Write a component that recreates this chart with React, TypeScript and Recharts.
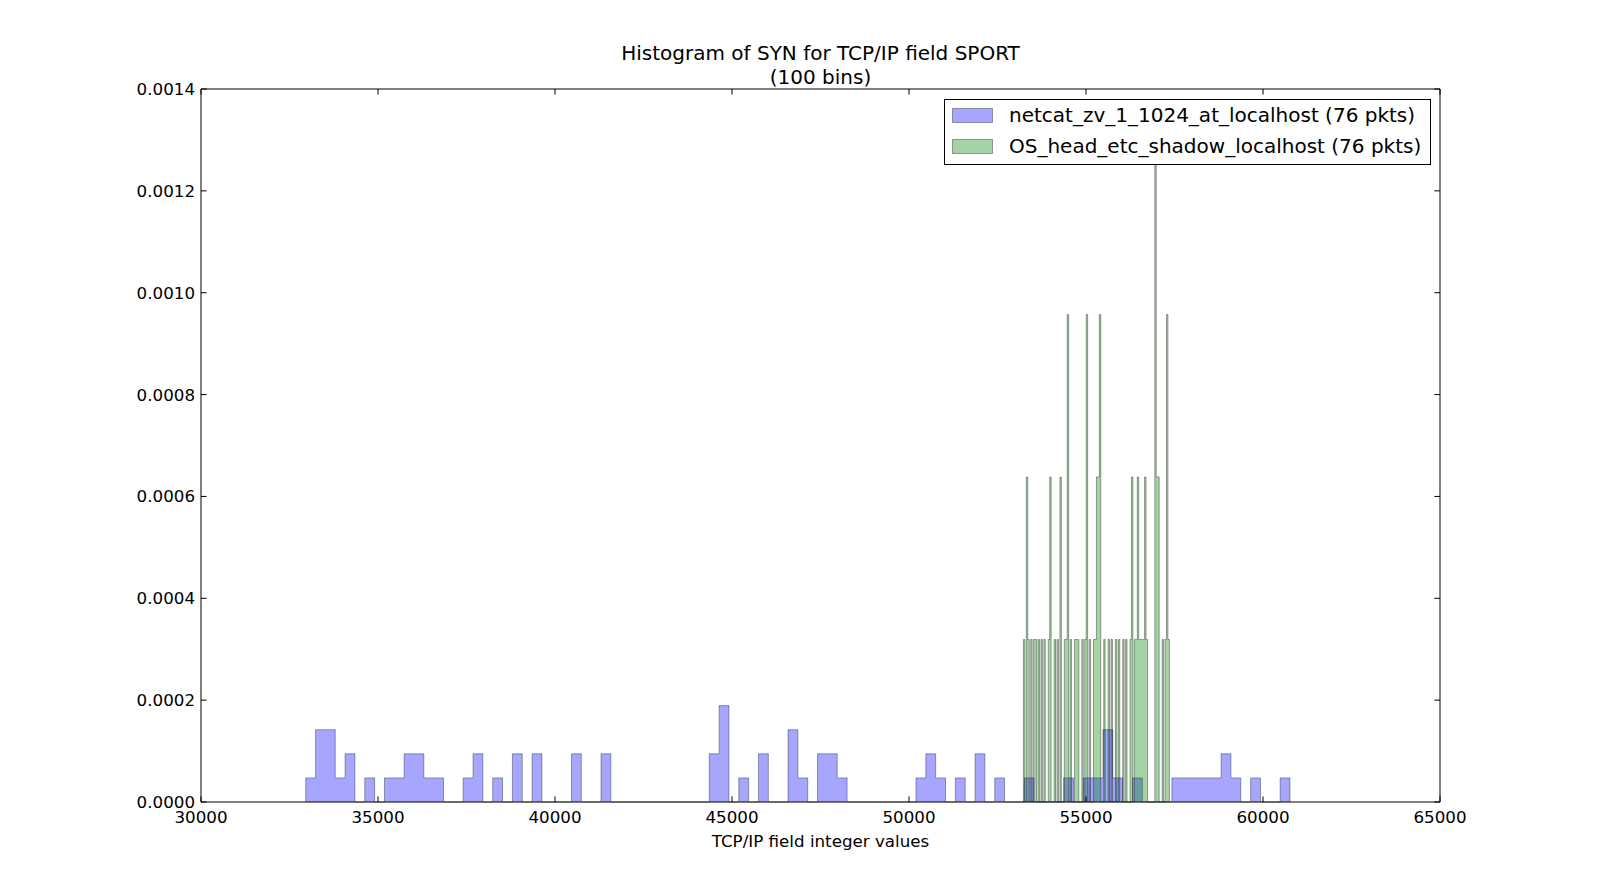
import React from "react";
import {
  ComposedChart,
  Area,
  XAxis,
  YAxis,
  Legend,
  Label,
  ReferenceLine,
} from "recharts";

const WIDTH = 1600;
const HEIGHT = 891;
const MARGIN = { top: 89, right: 160, bottom: 29, left: 121 };
const Y_AXIS_W = 80;
const X_AXIS_H = 60;
const PLOT_TOP = MARGIN.top;
const PLOT_RIGHT = WIDTH - MARGIN.right;
const TICK_LEN = 5.6;
const FONT = "'DejaVu Sans', sans-serif";

const PACKETS = 76;

const seriesNames = [
  "netcat_zv_1_1024_at_localhost (76 pkts)",
  "OS_head_etc_shadow_localhost (76 pkts)",
];

// netcat: SPORT range covered by the 100 bins, and packets per bin
const netcatRange = [32958, 60763];
const netcatCounts = [
  1, 3, 3, 1, 2, 0, 1, 0, 1, 1,
  2, 2, 1, 1, 0, 0, 1, 2, 0, 1,
  0, 2, 0, 2, 0, 0, 0, 2, 0, 0,
  2, 0, 0, 0, 0, 0, 0, 0, 0, 0,
  0, 2, 4, 0, 1, 0, 2, 0, 0, 3,
  1, 0, 2, 2, 1, 0, 0, 0, 0, 0,
  0, 0, 1, 2, 1, 0, 1, 0, 2, 0,
  1, 0, 0, 1, 0, 0, 0, 1, 0, 1,
  1, 3, 1, 0, 1, 0, 0, 0, 1, 1,
  1, 1, 1, 2, 1, 0, 1, 0, 0, 1,
];

// head /etc/shadow: SPORT range covered by the 100 bins, and packets per bin
const shadowRange = [53232, 57356];
const shadowCounts = [
  1, 0, 2, 1, 0, 1, 0, 1, 1, 0,
  1, 0, 1, 0, 1, 0, 0, 1, 2, 0,
  0, 1, 0, 1, 0, 2, 0, 0, 1, 1,
  3, 0, 1, 0, 0, 1, 1, 1, 0, 0,
  1, 0, 1, 3, 0, 1, 0, 0, 1, 1,
  2, 2, 3, 0, 0, 1, 0, 0, 1, 0,
  1, 0, 0, 1, 0, 1, 0, 0, 1, 0,
  1, 0, 0, 1, 2, 0, 1, 1, 2, 1,
  1, 1, 1, 2, 1, 0, 0, 0, 0, 0,
  4, 2, 2, 0, 0, 1, 0, 1, 3, 1,
];

const xTicks = [30000, 35000, 40000, 45000, 50000, 55000, 60000, 65000];
const yTicks = [0, 0.0002, 0.0004, 0.0006, 0.0008, 0.001, 0.0012, 0.0014];

// normalised histogram (density) as step points: bin edges with bin heights
const stepRows = (key: string, range: number[], counts: number[]) => {
  const width = (range[1] - range[0]) / counts.length;
  const rows: Record<string, number>[] = [{ x: range[0], [key]: 0 }];
  counts.forEach((c, i) => {
    rows.push({ x: range[0] + i * width, [key]: c / (PACKETS * width) });
  });
  rows.push({ x: range[1], [key]: 0 });
  return rows;
};

const data = [
  ...stepRows("netcat", netcatRange, netcatCounts),
  ...stepRows("shadow", shadowRange, shadowCounts),
].sort((a, b) => a.x - b.x);

const XTick = (props: any) => {
  const { x, y, payload } = props;
  return (
    <g>
      <line x1={x} x2={x} y1={y} y2={y - TICK_LEN} stroke="#000" />
      <line x1={x} x2={x} y1={PLOT_TOP} y2={PLOT_TOP + TICK_LEN} stroke="#000" />
      <text x={x} y={y + 20.5} textAnchor="middle" fontFamily={FONT} fontSize={16.7} fill="#000">
        {payload.value}
      </text>
    </g>
  );
};

const YTick = (props: any) => {
  const { x, y, payload } = props;
  return (
    <g>
      <line x1={x} x2={x + TICK_LEN} y1={y} y2={y} stroke="#000" />
      <line x1={PLOT_RIGHT} x2={PLOT_RIGHT - TICK_LEN} y1={y} y2={y} stroke="#000" />
      <text x={x - 6} y={y} dy="0.36em" textAnchor="end" fontFamily={FONT} fontSize={16.7} fill="#000">
        {payload.value.toFixed(4)}
      </text>
    </g>
  );
};

const patchFills = ["#0000ff", "#008000"];

const LegendBox = () => (
  <svg width={487} height={66} style={{ display: "block" }}>
    <rect x={0.5} y={0.5} width={486} height={65} fill="#fff" stroke="#000" />
    {seriesNames.map((name, i) => (
      <g key={name}>
        <rect
          x={8.5}
          y={9.5 + i * 31}
          width={40}
          height={14}
          fill={patchFills[i]}
          fillOpacity={0.35}
          stroke="#000"
          strokeOpacity={0.35}
        />
        <text x={65} y={23 + i * 31} fontFamily={FONT} fontSize={20} fill="#000">
          {name}
        </text>
      </g>
    ))}
  </svg>
);

export default function App() {
  return (
    <div
      style={{
        position: "absolute",
        left: 0,
        top: 0,
        width: WIDTH,
        height: HEIGHT,
        background: "#fff",
      }}
    >
      <div
        style={{
          position: "absolute",
          left: MARGIN.left + Y_AXIS_W,
          width: PLOT_RIGHT - MARGIN.left - Y_AXIS_W,
          top: 42,
          textAlign: "center",
          fontFamily: FONT,
          fontSize: 20,
          lineHeight: "23.5px",
          color: "#000",
          zIndex: 2,
        }}
      >
        Histogram of SYN for TCP/IP field SPORT
        <br />
        (100 bins)
      </div>
      <ComposedChart width={WIDTH} height={HEIGHT} data={data} margin={MARGIN}>
        <XAxis
          dataKey="x"
          type="number"
          domain={[30000, 65000]}
          ticks={xTicks}
          interval={0}
          height={X_AXIS_H}
          tickSize={0}
          tickMargin={0}
          tickLine={false}
          tick={XTick}
          axisLine={{ stroke: "#000" }}
        >
          <Label
            content={({ viewBox }: any) => (
              <text
                x={viewBox.x + viewBox.width / 2}
                y={viewBox.y + 45}
                textAnchor="middle"
                fontFamily={FONT}
                fontSize={16.7}
                fill="#000"
              >
                TCP/IP field integer values
              </text>
            )}
          />
        </XAxis>
        <YAxis
          type="number"
          domain={[0, 0.0014]}
          ticks={yTicks}
          interval={0}
          width={Y_AXIS_W}
          tickSize={0}
          tickMargin={0}
          tickLine={false}
          tick={YTick}
          axisLine={{ stroke: "#000" }}
        />
        <ReferenceLine y={0.0014} stroke="#000" />
        <ReferenceLine x={65000} stroke="#000" />
        <Area
          dataKey="netcat"
          name={seriesNames[0]}
          type="stepAfter"
          connectNulls
          fill="#0000ff"
          fillOpacity={0.35}
          stroke="#000"
          strokeOpacity={0.35}
          strokeWidth={1}
          dot={false}
          activeDot={false}
          isAnimationActive={false}
        />
        <Area
          dataKey="shadow"
          name={seriesNames[1]}
          type="stepAfter"
          connectNulls
          fill="#008000"
          fillOpacity={0.35}
          stroke="#000"
          strokeOpacity={0.35}
          strokeWidth={1}
          dot={false}
          activeDot={false}
          isAnimationActive={false}
        />
        <Legend
          layout="vertical"
          align="center"
          verticalAlign="middle"
          content={LegendBox}
          wrapperStyle={{ left: 944, top: 99, width: 487, height: 66 }}
        />
      </ComposedChart>
    </div>
  );
}
